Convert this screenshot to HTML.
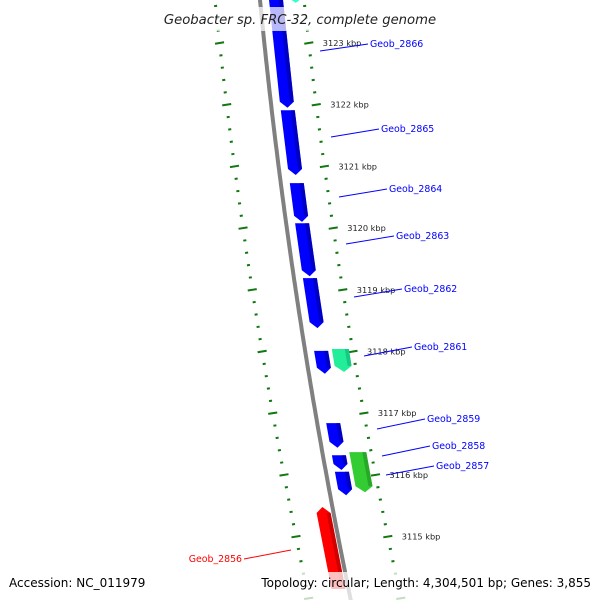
<!DOCTYPE html>
<html><head><meta charset="utf-8"><style>
body{margin:0;background:#fff}
svg{display:block;font-family:"DejaVu Sans","Liberation Sans",sans-serif}
</style></head><body>
<svg width="600" height="600" viewBox="0 0 600 600">
<g id="ticks"></g>
<g id="backbone"></g>
<g id="genes"></g>
<g id="labels"></g>
<rect x="157" y="7" width="286" height="24" fill="#fff" fill-opacity="0.72"/>
<text x="300" y="24" text-anchor="middle" font-size="13.2" font-style="italic" fill="#222">Geobacter sp. FRC-32, complete genome</text>
<rect x="0" y="572" width="600" height="28" fill="#fff" fill-opacity="0.75"/>
<text x="9" y="587" font-size="12" fill="#000">Accession: NC_011979</text>
<text x="591" y="587" font-size="12" text-anchor="end" fill="#000">Topology: circular; Length: 4,304,501 bp; Genes: 3,855</text>
</svg>
<script>
// data
const geneNames = ["top","Geob_2866b","Geob_2865","Geob_2864","Geob_2863","Geob_2862","Geob_2861","Geob_2861b","Geob_2859","Geob_2858","Geob_2857","Geob_2857b","Geob_2856"];
const geneStart = [3123.78,3123.70,3121.91,3120.73,3120.08,3119.19,3118.01,3118.04,3116.84,3116.32,3116.05,3116.37,3115.48];
const geneEnd   = [3123.65,3121.95,3120.86,3120.10,3119.22,3118.38,3117.64,3117.67,3116.44,3116.08,3115.67,3115.72,3114.15];
const geneLane  = [2,1,1,1,1,1,1,2,1,1,1,2,-1];
const geneColor = ["#33ffcc","#0000ff","#0000ff","#0000ff","#0000ff","#0000ff","#0000ff","#22ee99","#0000ff","#0000ff","#0000ff","#33cc33","#ff0000"];
const tickMajor = [3115,3116,3117,3118,3119,3120,3121,3122,3123];
const tickLabels = ["3115 kbp","3116 kbp","3117 kbp","3118 kbp","3119 kbp","3120 kbp","3121 kbp","3122 kbp","3123 kbp"];
const labelNames = ["Geob_2866","Geob_2865","Geob_2864","Geob_2863","Geob_2862","Geob_2861","Geob_2859","Geob_2858","Geob_2857","Geob_2856"];
const labelPos = [[370,47,320,51],[381,132,331,137],[389,192,339,197],[396,239,346,244],[404,292,354,297],[414,350,364,356],[427,422,377,429],[432,449,382,456],[436,469,386,475],[242,562,291,550]];

const NS="http://www.w3.org/2000/svg";
function mk(t,a,p){const e=document.createElementNS(NS,t);for(const k in a)e.setAttribute(k,a[k]);p.appendChild(e);return e;}
function yOf(k){return 43+(3123-k)*61.7;}
function bb(y){return 260+0.0968*y+9.08e-5*y*y;}
function outer(y){return bb(y)+44+6*y/563;}
function inner(y){return bb(y)-45+3*y/560;}

// backbone
const bg=document.getElementById('backbone');
let d="";for(let y=-5;y<=605;y+=5)d+=(y<0?"M":"L")+bb(y).toFixed(1)+","+y+" ";
const bbp=mk('path',{d:d,stroke:"#808080","stroke-width":4,fill:"none"},bg);



// ticks
const tg=document.getElementById('ticks');
for(let i=0;i<=50;i++){
  const k=3113.8+i*0.2; const y=yOf(k); if(y<-5||y>605)continue;
  const major=Math.abs(k-Math.round(k))<0.01;
  const len=major?9:3;
  [outer(y),inner(y)].forEach(x=>{
    const l=mk('line',{x1:x-len/2,y1:y+len*0.08,x2:x+len/2,y2:y-len*0.08,stroke:"#117711","stroke-width":2},tg);
    
    
  });
}
tickMajor.forEach((k,i)=>{
  const y=yOf(k);
  const t=mk('text',{x:outer(y)+14,y:y+3,"font-size":8.2,fill:"#222"},tg);
  t.textContent=tickLabels[i];
  
  
});

// genes
const gg=document.getElementById('genes');
function shade(c){return c==="#0000ff"?"#0000aa":c==="#ff0000"?"#bb0000":c==="#33cc33"?"#229922":"#11bb77";}
geneNames.forEach((n,i)=>{
  const y1=yOf(geneStart[i]), y2=yOf(geneEnd[i]);
  const lane=geneLane[i];
  const o1=lane===1?9:lane===2?27:-17, o2=lane===1?23:lane===2?44:-3;
  const h=6; const rev=lane===-1;
  const om=(o1+o2)/2;
  let pts;
  if(!rev){
    pts=[[y1,o1],[y1,o2],[y2-h,o2],[y2,om],[y2-h,o1]];
  } else {
    pts=[[y1+h,o1],[y1,om],[y1+h,o2],[y2,o2],[y2,o1]];
  }
  const s=pts.map(p=>(bb(p[0])+p[1]).toFixed(1)+","+p[0].toFixed(1)).join(" ");
  const g=mk('polygon',{points:s,fill:geneColor[i]},gg);
  
  
  const so=o2-4;
  const sp=[[y1+(rev?h:0),so],[y1+(rev?h:0),o2],[y2-(rev?0:h),o2],[y2-(rev?0:h),so]].map(p=>(bb(p[0])+p[1]).toFixed(1)+","+p[0].toFixed(1)).join(" ");
  const sh=mk('polygon',{points:sp,fill:shade(geneColor[i]),"fill-opacity":0.7},gg);
  
  
});

// labels
const lg=document.getElementById('labels');
labelNames.forEach((n,i)=>{
  const p=labelPos[i]; const red=n==="Geob_2856";
  const col=red?"#ff0000":"#0000ff";
  const l=mk('line',{x1:p[2],y1:p[3],x2:red?p[0]+2:p[0]-2,y2:p[1]-3,stroke:col,"stroke-width":1},lg);
  
  
  const t=mk('text',{x:p[0],y:p[1],"font-size":9.4,fill:col,"text-anchor":red?"end":"start"},lg);
  t.textContent=n;
  
  
});
</script>
</body></html>
